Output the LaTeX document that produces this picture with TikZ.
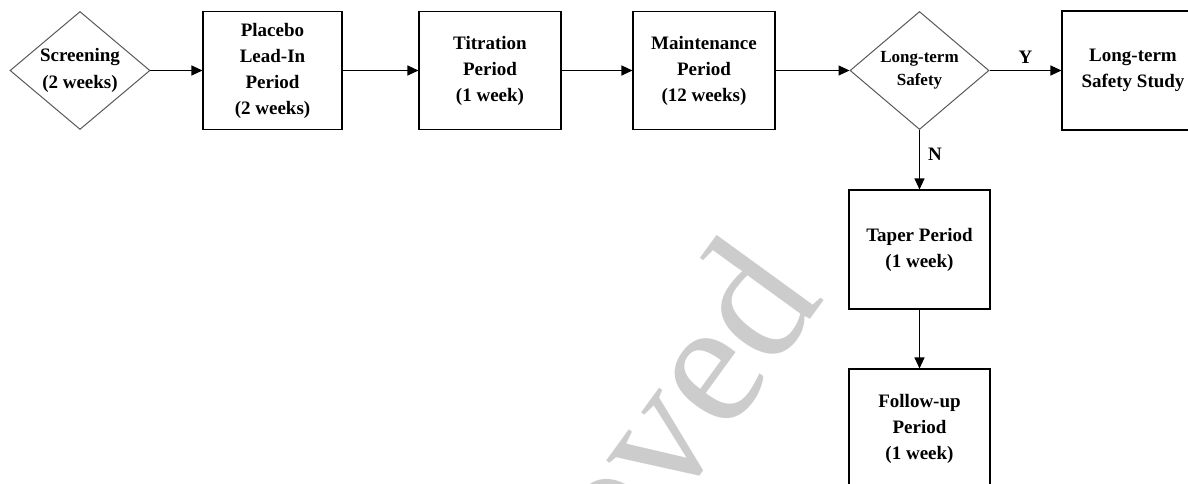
\documentclass[tikz,border=0pt]{standalone}
\usepackage{fontspec}
\setmainfont{Liberation Serif}
\usetikzlibrary{arrows.meta,shapes.geometric}
\begin{document}
\begin{tikzpicture}[x=1pt,y=-1pt,
  box/.style={draw=black,line width=1.1pt,rectangle,fill=white,inner sep=0pt,minimum width=141pt,minimum height=118pt,align=center,font=\bfseries\fontsize{19}{26}\selectfont},
  dec/.style={draw=black!65,line width=1pt,diamond,fill=white,shape aspect=1.18,inner sep=0pt,minimum width=140pt,minimum height=118pt,align=center,font=\bfseries\fontsize{19}{27}\selectfont},
  arr/.style={draw=black,line width=1.1pt,-{Triangle[length=11pt,width=10pt]}},
  lab/.style={font=\bfseries\fontsize{19}{19}\selectfont,inner sep=0pt},
  wmark/.style={rotate=54,anchor=base east,inner sep=0pt,text=black!20,font=\fontsize{180}{180}\selectfont}
]
\useasboundingbox (0,0) rectangle (1188,484);
\clip (0,0) rectangle (1188,484);
\fill[white] (0,0) rectangle (1188,484);

% watermark
\node[wmark] (wm) at (826,299) {Approved};

% nodes
\node[dec] (scr) at (80,70.5) {Screening\\(2 weeks)};
\node[box,minimum width=139pt] (plc) at (272.5,70.5) {Placebo\\Lead-In\\Period\\(2 weeks)};
\node[box,minimum width=142pt] (tit) at (490,70.5) {Titration\\Period\\(1 week)};
\node[box,minimum width=142pt] (mnt) at (704,70.5) {Maintenance\\Period\\(12 weeks)};
\node[dec,minimum width=139pt,font=\bfseries\fontsize{17}{23}\selectfont] (lts) at (919.5,70.5) {Long-term\\Safety};
\node[box,minimum width=142pt,minimum height=119pt] (ltss) at (1133,70.5) {Long-term\\Safety Study};
\node[box,minimum height=119pt] (tap) at (919.5,249.5) {Taper Period\\(1 week)};
\node[box,minimum height=119pt] (fol) at (919.5,428.5) {Follow-up\\Period\\(1 week)};

% connectors
\draw[arr] (scr) -- (plc);
\draw[arr] (plc) -- (tit);
\draw[arr] (tit) -- (mnt);
\draw[arr] (mnt) -- (lts);
\draw[arr] (lts) -- node[lab,above=6pt] (ylab) {Y} (ltss);
\draw[arr] (lts) -- node[lab,right=8pt,pos=0.4] (nlab) {N} (tap);
\draw[arr] (tap) -- (fol);
\end{tikzpicture}
\end{document}
